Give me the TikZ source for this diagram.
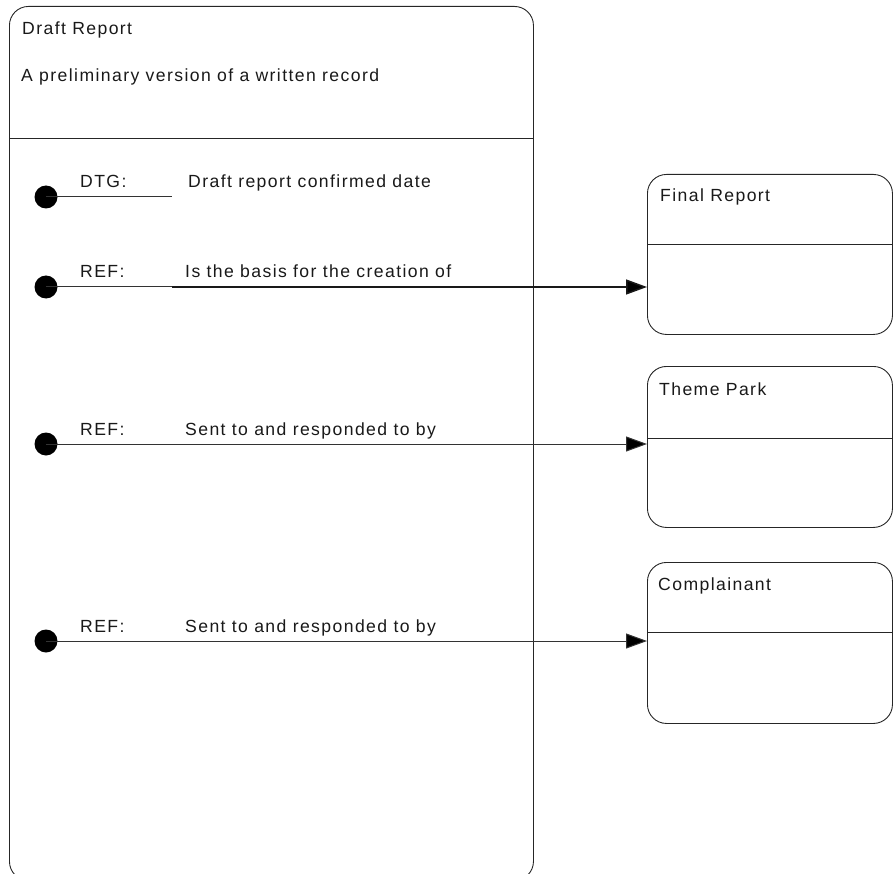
\documentclass[tikz,border=0pt]{standalone}
\usepackage{fontspec}
\setmainfont{Liberation Sans}[LetterSpace=8]
\usetikzlibrary{arrows.meta}

\begin{document}
\begin{tikzpicture}[x=1pt, y=-1pt,
  lbl/.style={font=\fontsize{17.6}{21}\selectfont, text=black!90, inner sep=0pt, anchor=base west},
  entity/.style={draw=black!85, line width=0.9pt, rounded corners=19pt, inner sep=0pt, anchor=north west},
  divider/.style={draw=black!85, line width=0.9pt},
  dot/.style={circle, fill=black, inner sep=0pt, minimum size=23pt},
  link/.style={draw=black!80, line width=1pt},
  boldlink/.style={draw=black!90, line width=1.5pt},
  tip/.style={-{Triangle[length=21pt, width=15pt, fill=black]}}
]
\useasboundingbox (0,0) rectangle (893,874);
\clip (0,0) rectangle (893,874);

% main entity
\node[entity, minimum width=524pt, minimum height=874pt] (draft) at (9,6) {};
\draw[divider] (draft.west |- 0,138) -- (draft.east |- 0,138);
\node[lbl] (dtitle) at (22,35) {Draft Report};
\node[lbl] (ddesc) at (21,82) {A preliminary version of a written record};

% related entities
\node[entity, minimum width=245pt, minimum height=160pt] (final) at (647,174) {};
\draw[divider] (final.west |- 0,244) -- (final.east |- 0,244);
\node[lbl] (ftitle) at (660,202) {Final Report};

\node[entity, minimum width=245pt, minimum height=161pt] (park) at (647,366) {};
\draw[divider] (park.west |- 0,438) -- (park.east |- 0,438);
\node[lbl] (ptitle) at (659,395) {Theme Park};

\node[entity, minimum width=245pt, minimum height=161pt] (compl) at (647,562) {};
\draw[divider] (compl.west |- 0,632) -- (compl.east |- 0,632);
\node[lbl] (ctitle) at (658,590) {Complainant};

% attribute DTG
\node[dot] (a1) at (46,197) {};
\coordinate (a1end) at (172,197);
\draw[link] (a1.center) -- (a1end);
\node[lbl] (a1key) at (80,188) {DTG:};
\node[lbl] (a1txt) at (188,188) {Draft report confirmed date};

% reference to Final Report
\node[dot] (r1) at (46,287) {};
\coordinate (r1mid) at (172,287);
\draw[link] (r1.center) -- (r1mid);
\draw[boldlink, tip] (r1mid) -- (r1 -| final.west);
\node[lbl] (r1key) at (80,278) {REF:};
\node[lbl] (r1txt) at (185,278) {Is the basis for the creation of};

% reference to Theme Park
\node[dot] (r2) at (46,444) {};
\draw[link, tip] (r2.center) -- (r2 -| park.west);
\node[lbl] (r2key) at (80,435) {REF:};
\node[lbl] (r2txt) at (185,435) {Sent to and responded to by};

% reference to Complainant
\node[dot] (r3) at (46,641) {};
\draw[link, tip] (r3.center) -- (r3 -| compl.west);
\node[lbl] (r3key) at (80,632) {REF:};
\node[lbl] (r3txt) at (185,632) {Sent to and responded to by};
\end{tikzpicture}
\end{document}
